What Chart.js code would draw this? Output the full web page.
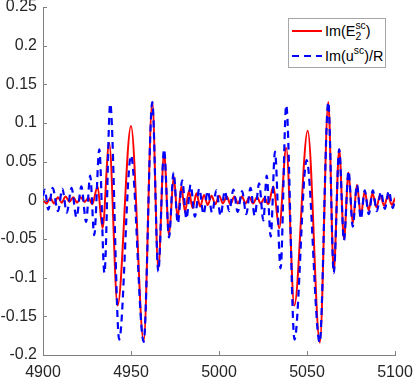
<!DOCTYPE html>
<html>
<head>
<meta charset="utf-8">
<title>Im(E2sc) and Im(usc)/R</title>
<script src="https://cdn.jsdelivr.net/npm/chart.js@4.4.1/dist/chart.umd.min.js"></script>
<style>
  html, body { margin: 0; padding: 0; background: #fff; }
  #wrap { position: relative; width: 413px; height: 380px; }
  #chart { display: block; }
  .legend {
    position: absolute; left: 288px; top: 18px; width: 96px; height: 48px;
    border: 1px solid #a6a6a6; background: #fff;
    font-family: 'Liberation Sans', Arial, Helvetica, sans-serif; font-size: 14.4px; color: #000;
  }
  .item { position: absolute; left: 0; width: 100%; height: 20px; }
  .item svg { position: absolute; left: 3px; top: 0; }
  .item .txt { position: absolute; left: 36px; top: 0; line-height: 20px; white-space: nowrap; }
  .sup, .sub { font-size: 0.72em; position: relative; }
  .sup { top: -0.65em; }
  .sub { top: 0.35em; }
  .stack { margin-left: -0.556em; }
</style>
</head>
<body>
<div id="wrap">
  <canvas id="chart" width="413" height="380"></canvas>
  <div class="legend">
    <div class="item" style="top: 2px;">
      <svg width="32" height="20"><line x1="0" y1="10" x2="30" y2="10" stroke="#ff0000" stroke-width="2"/></svg>
      <span class="txt">Im(E<span class="sub">2</span><span class="sup stack">sc</span>)</span>
    </div>
    <div class="item" style="top: 27px;">
      <svg width="32" height="20"><line x1="0" y1="10" x2="30" y2="10" stroke="#0000ff" stroke-width="2.2" stroke-dasharray="7 5"/></svg>
      <span class="txt">Im(u<span class="sup">sc</span>)/R</span>
    </div>
  </div>
</div>
<script>
// axis ticks
const xTicks = [4900, 4950, 5000, 5050, 5100];
const yTicks = [-0.2, -0.15, -0.1, -0.05, 0, 0.05, 0.1, 0.15, 0.2, 0.25];

// Im(E2sc) - turning points
const redX = [4900, 4902, 4904.2, 4906.3, 4908.5, 4910.6, 4912.8, 4915, 4917.2, 4919.3,
  4921.5, 4923.6, 4925.8, 4928, 4931, 4933.8, 4937.6, 4942.4, 4950, 4957.2,
  4962.1, 4965.5, 4968.8, 4971.6, 4974.3, 4976.5, 4978.6, 4980.7, 4982.9, 4985,
  4987.2, 4989.3, 4991.5, 4993.6, 4995.8, 4997.9, 5000.1, 5002.2, 5004.4, 5006.5,
  5008.7, 5010.8, 5013, 5015.1, 5017.3, 5019.4, 5021.6, 5023.7, 5025.9, 5028,
  5030.9, 5034.2, 5038.2, 5042.8, 5050.4, 5057.3, 5062.1, 5065.2, 5068.3, 5071,
  5073.6, 5076, 5078.4, 5080.6, 5082.8, 5085, 5087.2, 5089.4, 5091.6, 5093.8,
  5096, 5098.2, 5100];
const redY = [0.001, -0.004, 0.003, -0.004, 0.004, -0.003, 0.005, -0.002, 0.004, -0.003,
  0.004, -0.002, 0.003, -0.005, 0.018, -0.036, 0.074, -0.136, 0.096, -0.182,
  0.127, -0.088, 0.061, -0.045, 0.031, -0.023, 0.018, -0.015, 0.012, -0.010,
  0.009, -0.008, 0.007, -0.006, 0.006, -0.005, 0.006, -0.004, 0.005, -0.005,
  0.005, -0.004, 0.005, -0.004, 0.004, -0.004, 0.004, -0.004, 0.003, -0.005,
  0.018, -0.036, 0.068, -0.136, 0.090, -0.184, 0.127, -0.092, 0.066, -0.050,
  0.036, -0.030, 0.020, -0.020, 0.012, -0.013, 0.009, -0.009, 0.007, -0.007,
  0.006, -0.006, 0.003];

// Im(usc)/R
const blueX = [4900, 4901, 4903, 4905.5, 4908.5, 4911, 4913.5, 4916.2, 4919, 4921.8,
  4924.5, 4926.8, 4929.1, 4932, 4934.9, 4938.2, 4943.3, 4950, 4957.2, 4962.1,
  4965.5, 4968.8, 4971.6, 4974.2, 4976.6, 4979.1, 4981.5, 4983.9, 4986.3, 4988.8,
  4991.2, 4993.6, 4996.1, 4998.5, 5000.9, 5003.3, 5005.8, 5008.2, 5010.6, 5013.1,
  5015.5, 5017.9, 5020.3, 5022.8, 5025.2, 5027.1, 5029.4, 5031.8, 5035, 5038.2,
  5042.9, 5049.8, 5057.2, 5062.1, 5065.2, 5068.3, 5071, 5073.6, 5076, 5078.4,
  5080.6, 5082.8, 5085.1, 5087.4, 5089.7, 5092, 5094.2, 5096.5, 5098.7, 5100];
const blueY = [0.006, 0.014, -0.012, 0.016, -0.014, 0.015, -0.016, 0.016, -0.022, 0.018,
  -0.028, 0.032, -0.045, 0.066, -0.094, 0.125, -0.180, 0.058, -0.183, 0.127,
  -0.092, 0.066, -0.048, 0.036, -0.030, 0.026, -0.024, 0.020, -0.021, 0.015,
  -0.018, 0.012, -0.016, 0.013, -0.020, 0.012, -0.014, 0.014, -0.015, 0.012,
  -0.018, 0.016, -0.020, 0.022, -0.026, 0.032, -0.047, 0.063, -0.088, 0.123,
  -0.180, 0.052, -0.184, 0.127, -0.094, 0.066, -0.052, 0.038, -0.034, 0.020,
  -0.024, 0.013, -0.018, 0.013, -0.014, 0.011, -0.011, 0.012, -0.010, 0.002];

const axisColor = '#808080';
const textColor = '#262626';
const tickFont = { family: "'Liberation Sans', Arial, Helvetica, sans-serif", size: 16 };

function toPoints(xs, ys) {
  return xs.map((x, i) => ({ x: x, y: ys[i] }));
}

// MATLAB style ticks pointing into the plot
const innerTicks = {
  id: 'innerTicks',
  afterDraw(chart) {
    const { ctx, chartArea: a, scales: { x, y } } = chart;
    ctx.save();
    ctx.strokeStyle = axisColor;
    ctx.lineWidth = 1;
    ctx.beginPath();
    x.ticks.forEach(t => {
      const px = Math.round(x.getPixelForValue(t.value)) + 0.5;
      ctx.moveTo(px, a.bottom);
      ctx.lineTo(px, a.bottom - 4);
    });
    y.ticks.forEach(t => {
      const py = Math.round(y.getPixelForValue(t.value)) + 0.5;
      ctx.moveTo(a.left, py);
      ctx.lineTo(a.left + 4, py);
    });
    ctx.stroke();
    ctx.restore();
  }
};

new Chart(document.getElementById('chart').getContext('2d'), {
  type: 'line',
  data: {
    datasets: [
      {
        label: 'Im(E2sc)',
        data: toPoints(redX, redY),
        borderColor: '#ff0000',
        borderWidth: 2,
        pointRadius: 0,
        cubicInterpolationMode: 'monotone',
        order: 1
      },
      {
        label: 'Im(usc)/R',
        data: toPoints(blueX, blueY),
        borderColor: '#0000ff',
        borderWidth: 2.2,
        borderDash: [7, 5],
        pointRadius: 0,
        cubicInterpolationMode: 'monotone',
        order: 0
      }
    ]
  },
  options: {
    responsive: false,
    animation: false,
    events: [],
    layout: { padding: 0 },
    plugins: { legend: { display: false }, tooltip: { enabled: false } },
    scales: {
      x: {
        type: 'linear',
        min: 4900,
        max: 5100,
        afterBuildTicks: s => { s.ticks = xTicks.map(v => ({ value: v })); },
        afterFit: s => { s.height = 25; s.paddingRight = 18; },
        grid: { display: false, drawTicks: false },
        border: { color: axisColor, width: 1 },
        ticks: { font: tickFont, color: textColor, padding: 8, maxRotation: 0, callback: v => String(v) }
      },
      y: {
        type: 'linear',
        min: -0.2,
        max: 0.25,
        afterBuildTicks: s => { s.ticks = yTicks.map(v => ({ value: v })); },
        afterFit: s => { s.width = 43; s.paddingTop = 7; },
        grid: { display: false, drawTicks: false },
        border: { color: axisColor, width: 1 },
        ticks: { font: tickFont, color: textColor, padding: 6, callback: v => String(v) }
      }
    }
  },
  plugins: [innerTicks]
});
</script>
</body>
</html>
